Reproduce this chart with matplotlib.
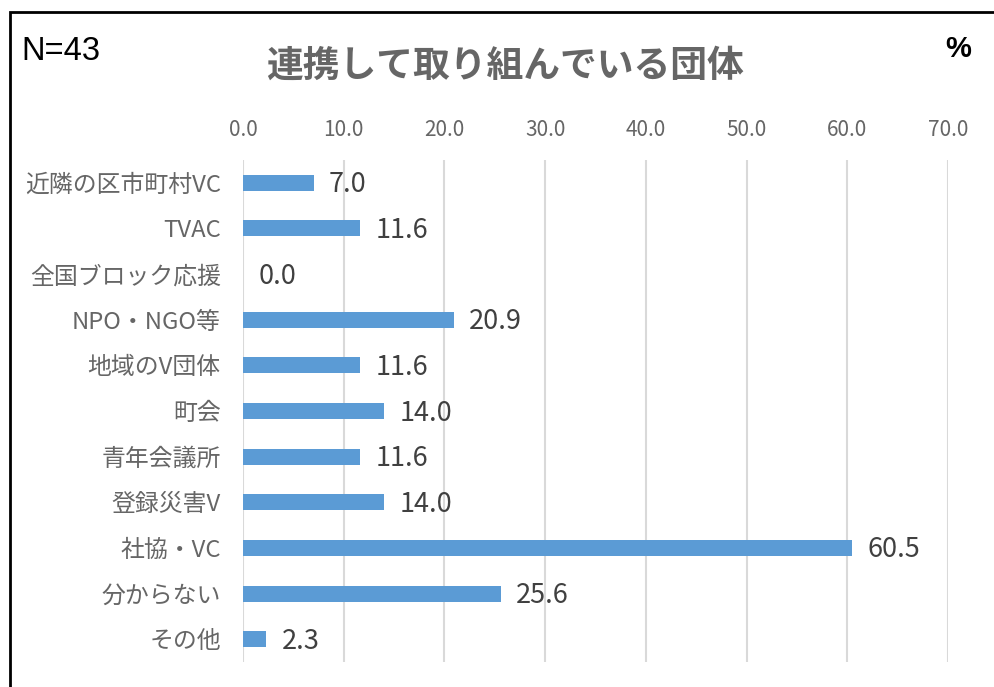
import matplotlib
matplotlib.use('Agg')
import matplotlib.pyplot as plt
from matplotlib.patches import Rectangle

plt.rcParams['font.family'] = ['Noto Sans CJK JP', 'DejaVu Sans']

# データ
categories = ['近隣の区市町村VC', 'TVAC', '全国ブロック応援', 'NPO・NGO等', '地域のV団体',
              '町会', '青年会議所', '登録災害V', '社協・VC', '分からない', 'その他']
values = [7.0, 11.6, 0.0, 20.9, 11.6, 14.0, 11.6, 14.0, 60.5, 25.6, 2.3]
xticks = [0, 10, 20, 30, 40, 50, 60, 70]

fig = plt.figure(figsize=(9.94, 6.87), dpi=100)
ax = fig.add_axes([0.2445, 0.0364, 0.7092, 0.7307])

pos = list(range(len(categories)))
ax.barh(pos, values, height=0.35, color='#5B9BD5', zorder=3)
ax.set_ylim(len(categories) - 0.5, -0.5)
ax.set_xlim(0, 70)
ax.set_yticks(pos)
ax.set_yticklabels(categories, fontsize=17.2, color='#666666')
ax.set_xticks(xticks)
ax.set_xticklabels([f'{t:.1f}' for t in xticks], fontsize=15, color='#666666')
ax.xaxis.tick_top()
ax.tick_params(axis='x', length=0, pad=14)
ax.tick_params(axis='y', length=0, pad=16)
ax.grid(axis='x', color='#D9D9D9', linewidth=1.5, zorder=0)
for s in ax.spines.values():
    s.set_visible(False)

# 値ラベル
for p, v in zip(pos, values):
    ax.annotate(f'{v:.1f}', (v, p), xytext=(11, -1.5), textcoords='offset points',
                va='center', ha='left', fontsize=19.5, color='#404040')

fig.text(0.508, 0.903, '連携して取り組んでいる団体', ha='center', va='center',
         fontsize=26.5, fontweight='bold', color='#666666')
fig.text(0.022, 0.925, 'N=43', ha='left', va='center', fontsize=23.5,
         family='Liberation Sans', color='black')
fig.text(0.964, 0.928, '%', ha='center', va='center', fontsize=21,
         fontweight='bold', family='Liberation Sans', color='black')

# 外枠
fig.patches.append(Rectangle((10 / 994, -0.1), 1.2, 1 - 12 / 687 + 0.1,
                             transform=fig.transFigure, fill=False,
                             edgecolor='black', linewidth=2))

fig.savefig('out.png', dpi=100)
